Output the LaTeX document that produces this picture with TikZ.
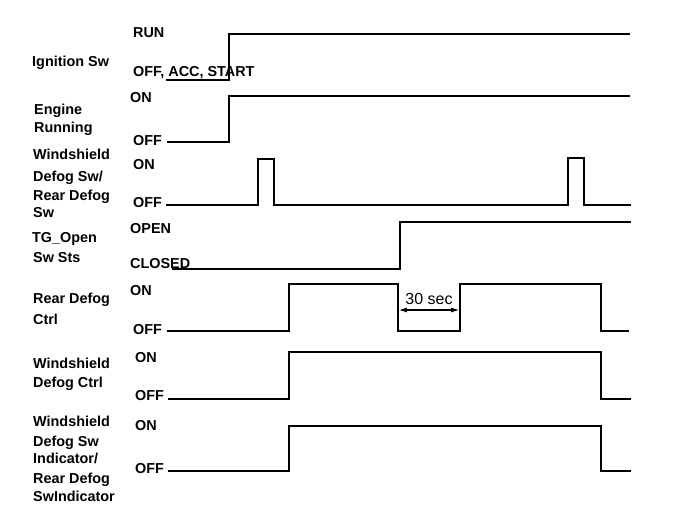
\documentclass[tikz,border=0pt]{standalone}
\usepackage{fontspec}
\setmainfont{Liberation Sans}
\usetikzlibrary{arrows.meta}
\begin{document}
\begin{tikzpicture}[x=1pt,y=-1pt,
  lbl/.style={anchor=base west,inner sep=0pt,font=\bfseries\fontsize{14.4}{17}\selectfont},
  sig/.style={line width=1.6pt,line join=miter},
  dim/.style={line width=1.1pt,{Latex[length=8pt,width=5pt]}-{Latex[length=8pt,width=5pt]}}]
\useasboundingbox (0,0) rectangle (688,524);
% left column labels
\node[lbl] (l1) at (32,67) {Ignition Sw};
\node[lbl] (l2a) at (34,115) {Engine};
\node[lbl] (l2b) at (34,132) {Running};
\node[lbl] (l3a) at (33,160) {Windshield};
\node[lbl] (l3b) at (33,182) {Defog Sw/};
\node[lbl] (l3c) at (33,200) {Rear Defog};
\node[lbl] (l3d) at (33,217) {Sw};
\node[lbl] (l4a) at (32,242) {TG\_Open};
\node[lbl] (l4b) at (33,262) {Sw Sts};
\node[lbl] (l5a) at (33,303) {Rear Defog};
\node[lbl] (l5b) at (33,324) {Ctrl};
\node[lbl] (l6a) at (33,368) {Windshield};
\node[lbl] (l6b) at (33,387) {Defog Ctrl};
\node[lbl] (l7a) at (33,426) {Windshield};
\node[lbl] (l7b) at (33,446) {Defog Sw};
\node[lbl] (l7c) at (33,463) {Indicator/};
\node[lbl] (l7d) at (33,483) {Rear Defog};
\node[lbl] (l7e) at (33,501) {SwIndicator};
% state labels
\node[lbl] (s1h) at (133,38) {RUN};
\node[lbl] (s1l) at (133,77) {OFF, ACC, START};
\node[lbl] (s2h) at (130,103) {ON};
\node[lbl] (s2l) at (133,146) {OFF};
\node[lbl] (s3h) at (133,169) {ON};
\node[lbl] (s3l) at (133,207) {OFF};
\node[lbl] (s4h) at (130,233) {OPEN};
\node[lbl] (s4l) at (130,268) {CLOSED};
\node[lbl] (s5h) at (130,295) {ON};
\node[lbl] (s5l) at (133,334) {OFF};
\node[lbl] (s6h) at (135,362) {ON};
\node[lbl] (s6l) at (135,400) {OFF};
\node[lbl] (s7h) at (135,430) {ON};
\node[lbl] (s7l) at (135,473) {OFF};
% waveforms
\draw[sig] (166,80) -- (229,80) -- (229,34) -- (630,34);
\draw[sig] (167,142) -- (229,142) -- (229,96) -- (630,96);
\draw[sig] (166,205) -- (258,205) -- (258,159) -- (274,159) -- (274,205) -- (568,205) -- (568,158) -- (584,158) -- (584,205) -- (631,205);
\draw[sig] (172,269) -- (400,269) -- (400,222) -- (631,222);
\draw[sig] (167,331) -- (289,331) -- (289,284) -- (398,284) -- (398,331) -- (460,331) -- (460,284) -- (601,284) -- (601,331) -- (629,331);
\draw[sig] (168,399) -- (289,399) -- (289,352) -- (601,352) -- (601,399) -- (631,399);
\draw[sig] (168,471) -- (289,471) -- (289,426) -- (601,426) -- (601,471) -- (631,471);
% 30 sec dimension
\coordinate (d1) at (398.8,310);
\coordinate (d2) at (459.2,310);
\draw[dim] (d1) -- (d2);
\node[anchor=base,inner sep=0pt,font=\fontsize{16}{19}\selectfont] (t30) at (429,304) {30 sec};
\end{tikzpicture}
\end{document}
